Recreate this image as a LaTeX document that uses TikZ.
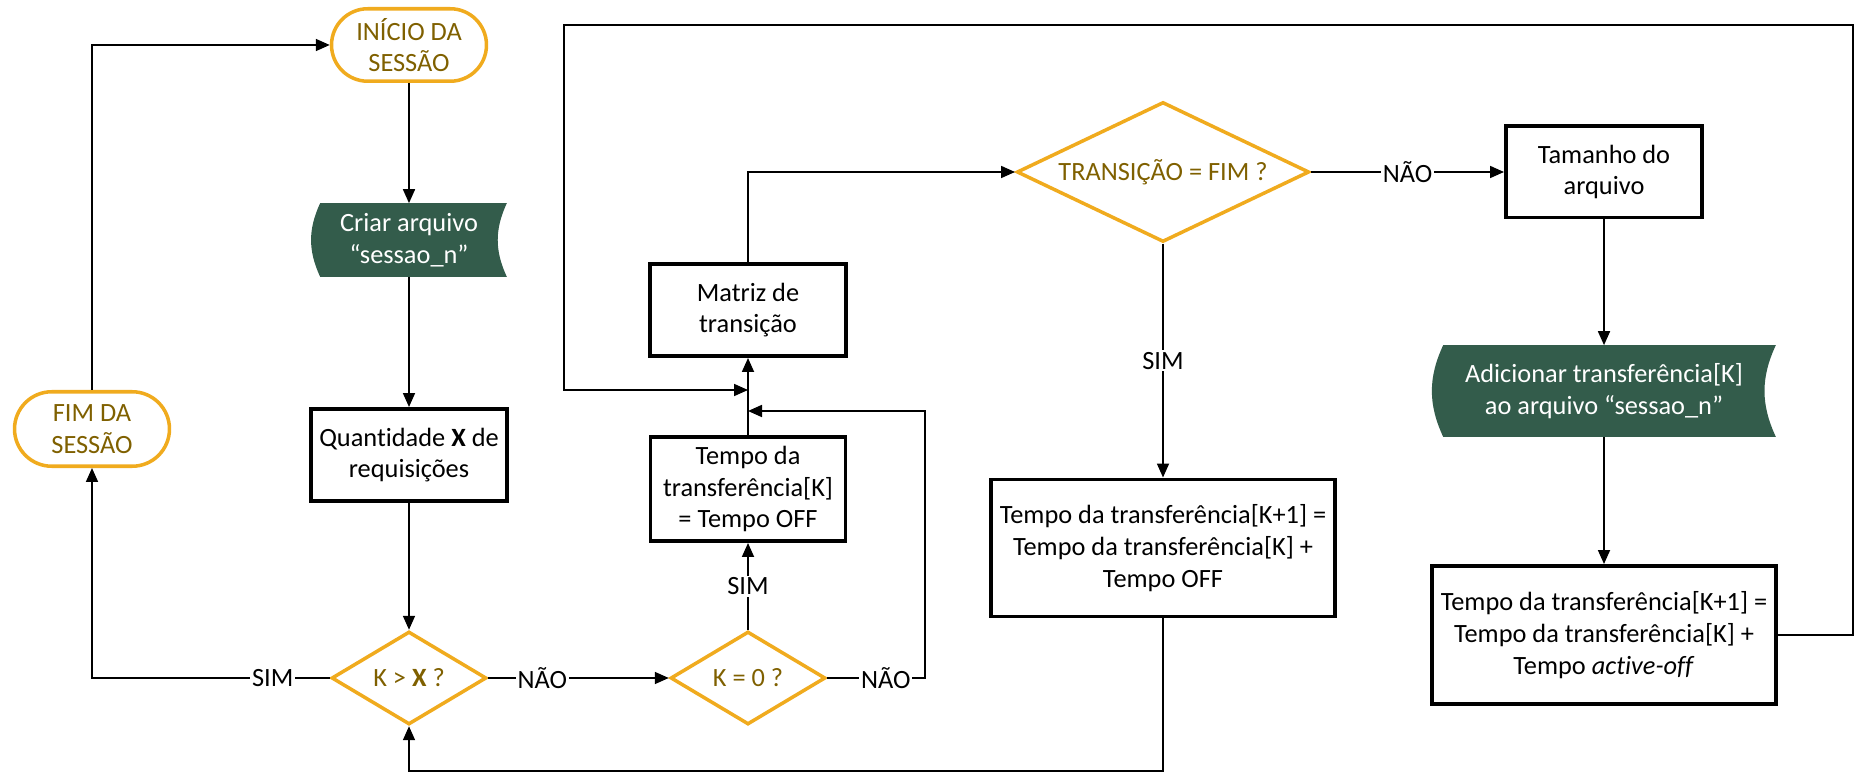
\documentclass[tikz,border=0pt]{standalone}
\usepackage{fontspec}
\setmainfont{Carlito}[RawFeature={-liga;-calt}]
\usepackage{tikz}
\usetikzlibrary{arrows.meta,positioning,shapes.geometric,shapes.misc}

\definecolor{termorange}{HTML}{F0AB1E}
\definecolor{termtext}{HTML}{7F6000}
\definecolor{datagreen}{HTML}{335C4B}
\pgfdeclarelayer{background}
\pgfsetlayers{background,main}

\begin{document}
\begin{tikzpicture}[x=0.02cm, y=-0.02cm,
    base/.style={font=\fontsize{15}{18}\selectfont, align=center, inner sep=0pt},
    terminal/.style={base, rounded rectangle, draw=termorange, line width=2pt, text=termtext},
    decision/.style={base, diamond, aspect=#1, draw=termorange, line width=2pt, text=termtext},
    procbox/.style={base, rectangle, draw, line width=2pt},
    datanode/.style={base, rectangle, text=white},
    lbl/.style={font=\fontsize{15}{18}\selectfont, fill=white, inner sep=1pt},
    arrow/.style={line width=1pt, -{Triangle[length=0.28cm, width=0.24cm]}}]
    \useasboundingbox (0,0) rectangle (1856,773);

    % Start, end and first steps
    \node[terminal, minimum width=3.1cm, minimum height=1.45cm] (inicio) at (409,45) {INÍCIO DA\\SESSÃO};
    \node[terminal, minimum width=3.1cm, minimum height=1.49cm] (fim) at (92,429) {FIM DA\\SESSÃO};
    \node[datanode, minimum width=3.9cm, minimum height=1.46cm] (criar) at (409,240) {Criar arquivo\\“sessao\_n”};
    \node[procbox, minimum width=3.93cm, minimum height=1.85cm] (qtd) at (409,455) {Quantidade \textbf{X} de\\requisições};

    % Decisions
    \node[decision=1.65, minimum width=3.1cm, minimum height=1.86cm] (kx) at (409,678) {K > \textbf{X} ?};
    \node[decision=1.65, minimum width=3.1cm, minimum height=1.86cm] (k0) at (748,678) {K = 0 ?};
    \node[decision=2.08, minimum width=5.85cm, minimum height=2.8cm] (trans) at (1163,172) {TRANSIÇÃO = FIM ?};

    % Middle column
    \node[procbox, minimum width=3.91cm, minimum height=2.09cm] (toff) at (748,489) {Tempo da\\transferência[K]\\= Tempo OFF};
    \node[procbox, minimum width=3.93cm, minimum height=1.85cm] (matriz) at (748,310) {Matriz de\\transição};
    \node[procbox, minimum width=6.89cm, minimum height=2.75cm] (tk1off) at (1163,548) {Tempo da transferência[K+1] =\\Tempo da transferência[K] +\\Tempo OFF};

    % Right column
    \node[procbox, minimum width=3.93cm, minimum height=1.83cm] (tamanho) at (1604,172) {Tamanho do\\arquivo};
    \node[datanode, minimum width=6.86cm, minimum height=1.82cm] (adic) at (1604,391) {Adicionar transferência[K]\\ao arquivo “sessao\_n”};
    \node[procbox, minimum width=6.89cm, minimum height=2.77cm] (tactive) at (1604,635) {Tempo da transferência[K+1] =\\Tempo da transferência[K] +\\Tempo \textit{active-off}};

    % Data shapes behind their texts
    \begin{pgfonlayer}{background}
        \foreach \n/\d in {criar/0.18cm, adic/0.22cm} {
            \fill[datagreen] ([xshift=\d]\n.north west) -- (\n.north east)
                to[bend right=25] (\n.south east) -- ([xshift=\d]\n.south west)
                to[bend left=25] ([xshift=\d]\n.north west) -- cycle;
        }
    \end{pgfonlayer}

    % Corner points of the loops
    \coordinate (jup) at (748,390);
    \coordinate (jlow) at (748,411);
    \coordinate (kright) at (925,678);
    \coordinate (ne) at (1853,25);
    \coordinate (nw) at (564,25);
    \coordinate (bot) at (409,771);

    % Connections
    \draw[arrow] (inicio.south) -- (criar.north);
    \draw[arrow] (criar.south) -- (qtd.north);
    \draw[arrow] (qtd.south) -- (kx.north);
    \draw[arrow] (kx.west) -| node[lbl, pos=0.12] {SIM} (fim.south);
    \draw[arrow] (fim.north) |- (inicio.west);
    \draw[arrow] (kx.east) -- node[lbl, pos=0.3] {NÃO} (k0.west);
    \draw[arrow] (k0.north) -- node[lbl] {SIM} (toff.south);
    \draw[arrow] (k0.east) -- node[lbl, pos=0.6] {NÃO} (kright) |- (jlow);
    \draw[arrow] (toff.north) -- (matriz.south);
    \draw[arrow] (matriz.north) |- (trans.west);
    \draw[arrow] (trans.east) -- node[lbl] {NÃO} (tamanho.west);
    \draw[arrow] (trans.south) -- node[lbl] {SIM} (tk1off.north);
    \draw[arrow] (tamanho.south) -- (adic.north);
    \draw[arrow] (adic.south) -- (tactive.north);
    \draw[arrow] (tactive.east) -| (ne) -- (nw) |- (jup);
    \draw[arrow] (tk1off.south) |- (bot) -- (kx.south);
\end{tikzpicture}
\end{document}
